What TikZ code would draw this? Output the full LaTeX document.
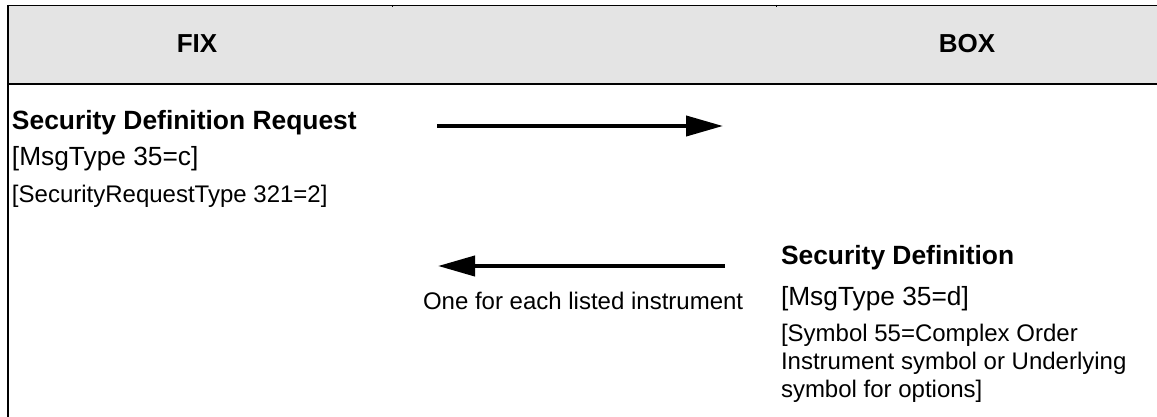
\documentclass[tikz,border=0pt]{standalone}
\usepackage{fontspec}
\setmainfont{Liberation Sans}
\usetikzlibrary{arrows.meta}
\definecolor{hdrgray}{HTML}{E4E4E4}
\tikzset{
  txt/.style={anchor=base west, inner sep=0pt, outer sep=0pt},
  hdr/.style={anchor=base, inner sep=0pt, font=\fontsize{26}{30}\selectfont\bfseries},
  ttl/.style={txt, font=\fontsize{26.4}{30}\selectfont\bfseries},
  big/.style={txt, font=\fontsize{26.3}{30}\selectfont},
  sml/.style={txt, font=\fontsize{24}{28}\selectfont},
  msgarrow/.style={line width=4pt, -{Triangle[length=37pt, width=20pt]}}
}
\begin{document}
\begin{tikzpicture}[x=1pt, y=-1pt]
  \useasboundingbox (0,0) rectangle (1157,417);
  % header band
  \fill[hdrgray] (8,5) rectangle (1157,84);
  \draw[line width=1pt] (7,5.5) -- (1157,5.5);
  \draw[line width=1pt] (392,5) -- (392,7.5);
  \draw[line width=1pt] (776,5) -- (776,7.5);
  \draw[line width=2pt] (7,84.5) -- (1157,84.5);
  \draw[line width=2pt] (8,5) -- (8,417);
  \node[hdr] (fix) at (197,53) {FIX};
  \node[hdr] (box) at (967,53) {BOX};
  % request
  \node[ttl] (reqtitle) at (12,130) {Security Definition Request};
  \node[big] (reqmsg) at (12,165) {[MsgType 35=c]};
  \node[sml] (reqtype) at (12,202) {[SecurityRequestType 321=2]};
  % definition
  \node[ttl] (deftitle) at (781,264) {Security Definition};
  \node[big] (defmsg) at (781,305) {[MsgType 35=d]};
  \node[sml] (defsym1) at (781,341) {[Symbol 55=Complex Order};
  \node[sml] (defsym2) at (781,369) {Instrument symbol or Underlying};
  \node[sml] (defsym3) at (781,397) {symbol for options]};
  % arrows
  \coordinate (r1) at (437,126);
  \coordinate (r2) at (723,126);
  \coordinate (l1) at (725,266);
  \coordinate (l2) at (438,266);
  \draw[msgarrow] (r1) -- (r2);
  \draw[msgarrow] (l1) -- (l2);
  \node[sml] (each) at (423,309) {One for each listed instrument};
\end{tikzpicture}
\end{document}
